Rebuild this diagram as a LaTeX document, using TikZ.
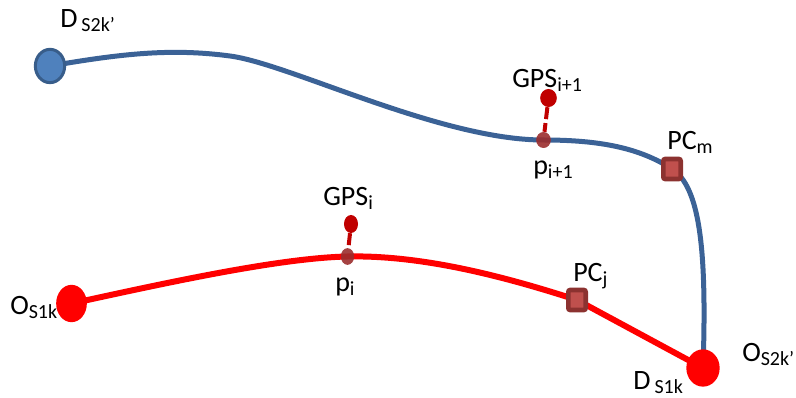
\documentclass[tikz,border=0pt]{standalone}
\usepackage{fontspec}
\setmainfont{Carlito}
\usetikzlibrary{shapes.geometric}
\definecolor{routeblue}{RGB}{59,98,150}
\definecolor{dotblue}{RGB}{79,129,189}
\definecolor{rimblue}{RGB}{56,93,138}
\definecolor{gpsred}{RGB}{192,0,0}
\definecolor{matchred}{RGB}{155,45,45}
\definecolor{pcfill}{RGB}{192,80,77}
\definecolor{pcrim}{RGB}{140,50,48}
\newcommand{\lowsub}[1]{\raisebox{-2.5pt}{\fontsize{15}{18}\selectfont #1}}

\begin{document}
\begin{tikzpicture}[x=0.75pt,y=0.75pt,yscale=-1,xscale=1,
  lbl/.style={anchor=base west,inner sep=0pt,font=\fontsize{21}{25}\selectfont},
  blueroute/.style={draw=routeblue,line width=3.75pt},
  redroute/.style={draw=red,line width=4.5pt},
  gpsdot/.style={ellipse,fill=gpsred,inner sep=0pt,minimum width=12.5pt,minimum height=13.5pt},
  matchdot/.style={ellipse,fill=matchred,fill opacity=0.9,inner sep=0pt,minimum width=11pt,minimum height=12pt},
  pcbox/.style={rectangle,rounded corners=1.5pt,fill=pcfill,draw=pcrim,line width=3.5pt,inner sep=0pt,minimum width=13pt,minimum height=15pt},
  gpslink/.style={draw=gpsred,line width=3pt,dash pattern=on 9pt off 3pt}]
\useasboundingbox (0,0) rectangle (796,398);

% Points
\coordinate (dS2) at (50,66);
\coordinate (bendA) at (230,56);
\coordinate (pi1) at (543.5,140);
\coordinate (pcm) at (672,169);
\coordinate (oS2) at (703,368);
\coordinate (oS1) at (71.5,303.5);
\coordinate (pi) at (347.5,256.5);
\coordinate (pcj) at (577,300);

% Route 2 (blue)
\draw [blueroute] (dS2) .. controls (120,54) and (170,48) .. (bendA) .. controls (290,64) and (440,140) .. (pi1) .. controls (600,140) and (640,148) .. (pcm) .. controls (700,187) and (707,250) .. (oS2) ;
% Route 1 (red)
\draw [redroute] (oS1) .. controls (170,282) and (280,258) .. (pi) .. controls (420,255) and (500,275) .. (pcj) -- (oS2) ;

% End dots
\node [ellipse,fill=dotblue,draw=rimblue,line width=2.25pt,inner sep=0pt,minimum width=22pt,minimum height=25pt] (dS2dot) at (dS2) {};
\node [ellipse,fill=red,inner sep=0pt,minimum width=23pt,minimum height=28pt] (oS1dot) at (oS1) {};
\node [ellipse,fill=red,inner sep=0pt,minimum width=25pt,minimum height=28pt] (oS2dot) at (oS2) {};

% Matched points and GPS fixes
\node [matchdot] (pi1dot) at (pi1) {};
\node [matchdot,minimum width=10pt,minimum height=12.5pt] (pidot) at (pi) {};
\node [gpsdot] (gps1dot) at (548.5,98) {};
\node [gpsdot,minimum width=10.5pt] (gpsdot) at (351,224) {};
\draw [gpslink] (gps1dot) -- (pi1dot) ;
\draw [gpslink] (gpsdot) -- (pidot) ;

% Checkpoints
\node [pcbox] (pcmbox) at (pcm) {};
\node [pcbox] (pcjbox) at (pcj) {};

% Text Node
\node [lbl] (lblD2) at (60,28) {D\hspace{3pt}\lowsub{S2k’}};
% Text Node
\node [lbl] (lblG1) at (512,88) {GPS\lowsub{i+1}};
% Text Node
\node [lbl] (lblP1) at (533,175) {p\lowsub{i+1}};
% Text Node
\node [lbl] (lblPm) at (667,150) {PC\lowsub{m}};
% Text Node
\node [lbl] (lblG) at (323,206) {GPS\lowsub{i}};
% Text Node
\node [lbl] (lblP) at (335,292) {p\lowsub{i}};
% Text Node
\node [lbl] (lblPj) at (573,282) {PC\lowsub{j}};
% Text Node
\node [lbl] (lblO1) at (10,315) {O\lowsub{S1k}};
% Text Node
\node [lbl] (lblD1) at (633,390) {D\hspace{3pt}\lowsub{S1k}};
% Text Node
\node [lbl] (lblO2) at (742,362) {O\lowsub{S2k’}};

\end{tikzpicture}
\end{document}
